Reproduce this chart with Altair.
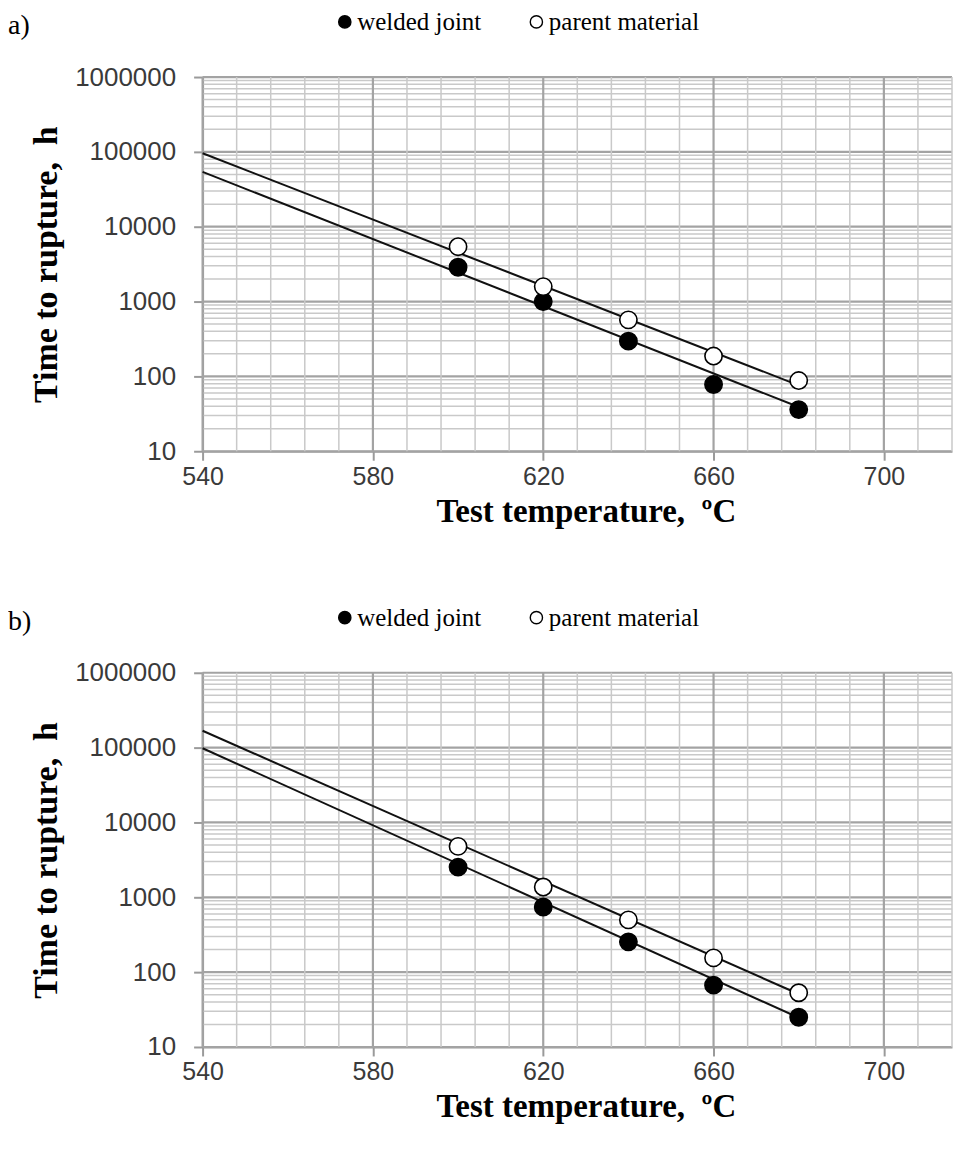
import altair as alt
import pandas as pd

# ---- data ----
panel_labels = ["a)", "b)"]
series_names = ["welded joint", "parent material"]
temps = [600, 620, 640, 660, 680]

a_welded = [2870, 1000, 296, 78, 36]
a_parent = [5410, 1585, 570, 187, 88]
b_welded = [2535, 743, 254, 67, 25]
b_parent = [4790, 1371, 499, 155, 53]

fit_temps = [540, 680]
a_welded_fit = [54000, 39]
a_parent_fit = [96000, 76]
b_welded_fit = [98000, 24.6]
b_parent_fit = [168000, 51]

# ---- axis ticks / grid positions ----
x_major = [540, 580, 620, 660, 700]
x_minor = [548, 556, 564, 572, 588, 596, 604, 612, 628, 636, 644, 652,
           668, 676, 684, 692, 708, 716]
y_major = [10, 100, 1000, 10000, 100000, 1000000]
y_minor = [m * 10 ** k for k in range(1, 6) for m in range(2, 10)]

X_DOMAIN = [540, 716]
Y_DOMAIN = [10, 1000000]
W, H = 751, 375

MAJOR_C, MINOR_C = "#a3a3a3", "#c9c9c9"
NB = "\u00a0"

X_AXIS = alt.Axis(
    values=x_major, grid=False, title="Test temperature," + NB + NB + "ºC",
    tickSize=9, tickColor="#9a9a9a", tickWidth=2,
    domainColor="#9a9a9a", domainWidth=2,
    labelFont="Liberation Sans", labelFontSize=25, labelColor="#3a3a3a",
    labelPadding=4, labelFlush=False,
    titleFont="Liberation Serif", titleFontSize=33, titleFontWeight="bold",
    titleColor="black", titlePadding=6, titleX=384, titleAlign="center",
)
Y_AXIS = alt.Axis(
    values=y_major, format="d", grid=False, title="Time to rupture," + NB + NB + "h",
    tickSize=9, tickColor="#9a9a9a", tickWidth=2,
    domainColor="#9a9a9a", domainWidth=2,
    labelFont="Liberation Sans", labelFontSize=26, labelColor="#3a3a3a",
    labelPadding=18, labelFlush=False,
    titleFont="Liberation Serif", titleFontSize=34, titleFontWeight="bold",
    titleColor="black", titlePadding=11,
)


def panel(label, welded, parent, welded_fit, parent_fit):
    xs = alt.Scale(domain=X_DOMAIN, nice=False, zero=False)
    ys = alt.Scale(type="log", domain=Y_DOMAIN, nice=False)

    def X(f):
        return alt.X(f, scale=xs, axis=X_AXIS)

    def Y(f):
        return alt.Y(f, scale=ys, axis=Y_AXIS)

    pts = pd.DataFrame({
        "temp": temps + temps,
        "time": welded + parent,
        "series": [series_names[0]] * len(temps) + [series_names[1]] * len(temps),
    })
    fit = pd.DataFrame({
        "temp": fit_temps + fit_temps,
        "time": welded_fit + parent_fit,
        "series": [series_names[0]] * 2 + [series_names[1]] * 2,
    })

    ymin = alt.Chart(pd.DataFrame({"time": y_minor})).mark_rule(
        color=MINOR_C, strokeWidth=1.5).encode(y=Y("time:Q"))
    ymaj = alt.Chart(pd.DataFrame({"time": y_major})).mark_rule(
        color=MAJOR_C, strokeWidth=2.2).encode(y=Y("time:Q"))
    xmin = alt.Chart(pd.DataFrame({"temp": x_minor})).mark_rule(
        color=MINOR_C, strokeWidth=1.5).encode(x=X("temp:Q"))
    xmaj = alt.Chart(pd.DataFrame({"temp": x_major})).mark_rule(
        color=MAJOR_C, strokeWidth=2.2).encode(x=X("temp:Q"))

    lines = alt.Chart(fit).mark_line(color="#111111", strokeWidth=2).encode(
        x=X("temp:Q"), y=Y("time:Q"), detail="series:N",
    )

    points = alt.Chart(pts).mark_point(
        filled=True, shape="circle", size=300, stroke="black",
        strokeWidth=1.6, opacity=1,
    ).encode(
        x=X("temp:Q"),
        y=Y("time:Q"),
        fill=alt.Fill("series:N", scale=alt.Scale(domain=series_names,
                                                   range=["black", "white"]),
                      legend=alt.Legend(
                          title=None, orient="none", legendX=130, legendY=-68,
                          direction="horizontal", symbolType="circle",
                          symbolSize=150, symbolStrokeColor="black",
                          symbolStrokeWidth=1.4, labelFont="Liberation Serif",
                          labelFontSize=25, labelColor="black", labelOffset=0,
                          columnPadding=42,
                      )),
    )

    tag = alt.Chart(pd.DataFrame({"t": [label]})).mark_text(
        align="left", baseline="middle", font="Liberation Serif", fontSize=28,
        color="black",
    ).encode(x=alt.value(-195), y=alt.value(-51), text="t:N")

    return alt.layer(ymin, ymaj, xmin, xmaj, lines, points, tag).properties(
        width=W, height=H)


chart = alt.vconcat(
    panel(panel_labels[0], a_welded, a_parent, a_welded_fit, a_parent_fit),
    panel(panel_labels[1], b_welded, b_parent, b_welded_fit, b_parent_fit),
    spacing=77,
).resolve_scale(fill="independent").resolve_legend(fill="independent").configure(
    padding=0, background="white"
).configure_view(stroke=None)

chart.save("out.html", embed_options={"renderer": "svg", "actions": False})
